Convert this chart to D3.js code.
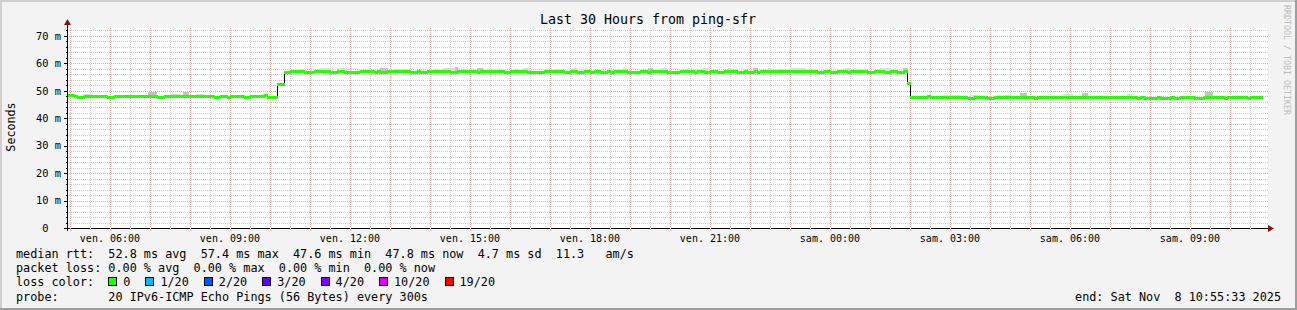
<!DOCTYPE html>
<html>
<head>
<meta charset="utf-8">
<script src="https://cdn.jsdelivr.net/npm/d3@7"></script>
<style>
body { margin: 0; background: #f3f3f3; }
svg { display: block; font-family: "DejaVu Sans Mono", monospace; }
text { white-space: pre; }
</style>
</head>
<body>
<svg id="graph" width="1297" height="310"></svg>
<script>
// median rtt (ms), step series: minute offset from graph start -> value
var medianStart = [0, 10, 15, 25, 60, 70, 135, 145, 220, 230, 240, 245, 265, 275, 295, 300, 315, 325, 335,
    355, 370, 395, 405, 415, 440, 460, 465, 470, 480, 515, 525, 530, 540, 575, 585, 615, 620, 655, 665, 690, 715,
    745, 755, 765, 775, 785, 790, 800, 810, 815, 820, 840, 860, 870, 875, 900, 920, 940, 945, 955, 965, 975, 985,
    1005, 1015, 1020, 1030, 1035, 1040, 1125, 1135, 1145, 1155, 1170, 1175, 1200, 1210, 1225, 1235, 1245, 1255,
    1260, 1265, 1290, 1295, 1350, 1360, 1380, 1390, 1450, 1455, 1605, 1610, 1615, 1635, 1640, 1655, 1660, 1670,
    1690, 1705, 1735, 1740, 1770, 1775];
var medianValue = [48.3, 48.0, 47.6, 48.0, 47.6, 48.0, 47.6, 48.0, 47.6, 48.0, 47.6, 48.0, 47.6, 48.0, 48.3, 47.6, 52.5, 57.0, 57.4,
    56.9, 57.4, 56.9, 57.4, 56.9, 57.4, 56.9, 57.4, 56.9, 57.4, 56.9, 57.4, 56.9, 57.4, 56.9, 57.4, 56.9, 57.4, 56.9, 57.4, 56.9, 57.4,
    56.9, 57.4, 56.9, 57.4, 56.9, 57.4, 56.9, 57.4, 56.9, 57.4, 56.9, 57.4, 56.9, 57.4, 56.9, 57.4, 56.9, 57.4, 56.9, 57.4, 56.9, 57.4,
    56.9, 57.4, 56.9, 57.4, 56.9, 57.4, 56.9, 57.4, 56.9, 57.4, 56.9, 57.4, 56.9, 57.4, 56.9, 57.4, 56.9, 57.4,
    53.0, 47.9, 48.2, 47.9, 47.5, 47.9, 47.5, 47.9, 47.5, 47.9, 47.5, 47.9, 47.5, 47.9, 47.5, 47.9, 47.5, 47.9,
    47.5, 47.9, 47.5, 47.9, 47.5, 47.8];
var dataEnd = 1793;

// smoke (spread of the 20 pings) where it shows above the median
var smokeFrom = [24, 121, 154, 174, 193, 380, 406, 470, 564, 582, 615, 684, 758, 810, 834, 872, 890, 930, 954, 992,
    1029, 1052, 1085, 1167, 1220, 1254, 1314, 1355, 1395, 1430, 1494, 1523, 1590, 1707];
var smokeTo = [39, 135, 171, 183, 207, 399, 420, 482, 590, 587, 624, 695, 765, 818, 842, 879, 900, 938, 962, 999,
    1037, 1059, 1107, 1175, 1235, 1262, 1340, 1370, 1419, 1440, 1509, 1532, 1598, 1719];
var smokeTop = [48.8, 49.4, 48.8, 49.4, 48.7, 58.2, 58.2, 58.2, 58.2, 58.6, 58.2, 58.2, 58.2, 58.2, 58.2, 58.2, 58.2, 58.2, 58.2, 58.2,
    58.2, 58.2, 58.2, 58.2, 58.2, 58.2, 48.6, 48.6, 48.6, 49.3, 48.8, 49.3, 48.8, 49.5];

var yMajor = [0, 10, 20, 30, 40, 50, 60, 70];
var weekDays = ["dim.", "lun.", "mar.", "mer.", "jeu.", "ven.", "sam."];

var lossLabels = ["0", "1/20", "2/20", "3/20", "4/20", "10/20", "19/20"];
var lossColors = ["#26ff00", "#00b8ff", "#0059ff", "#5e00ff", "#7e00ff", "#dd00ff", "#ff0000"];

var legendLines = [
    "median rtt:  52.8 ms avg  57.4 ms max  47.6 ms min  47.8 ms now  4.7 ms sd  11.3   am/s",
    "packet loss: 0.00 % avg  0.00 % max  0.00 % min  0.00 % now",
    "loss color:",
    "probe:       20 IPv6-ICMP Echo Pings (56 Bytes) every 300s"
];

var endTime = new Date(2025, 10, 8, 10, 55, 33);
var startTime = d3.timeHour.offset(endTime, -30);

var svg = d3.select("#graph");
var svg_width = 1297, svg_height = 310;
var plotLeft = 67, plotRight = 1267, plotTop = 28, plotBottom = 228;

// frame
svg.append("rect").attr("width", svg_width).attr("height", svg_height).attr("fill", "#f3f3f3");
svg.append("rect").attr("x", 0).attr("y", 0).attr("width", svg_width).attr("height", 2).attr("fill", "#cfcfcf");
svg.append("rect").attr("x", 0).attr("y", 0).attr("width", 2).attr("height", svg_height).attr("fill", "#cfcfcf");
svg.append("rect").attr("x", 0).attr("y", svg_height - 2).attr("width", svg_width).attr("height", 2).attr("fill", "#9e9e9e");
svg.append("rect").attr("x", svg_width - 2).attr("y", 0).attr("width", 2).attr("height", svg_height).attr("fill", "#9e9e9e");

// canvas
svg.append("rect").attr("x", plotLeft).attr("y", plotTop).attr("width", plotRight - plotLeft + 1).attr("height", plotBottom - plotTop)
    .attr("fill", "#ffffff");

var x = d3.scaleTime().domain([startTime, endTime]).range([plotLeft, plotRight]);
var y = d3.scaleLinear().domain([0, 72.9]).range([plotBottom, plotTop]);

function tAt(m) { return d3.timeMinute.offset(startTime, m); }
function px(v) { return Math.round(v) + 0.5; }

var grid = svg.append("g").attr("shape-rendering", "crispEdges");

// minor grid
grid.selectAll(".hminor").data(d3.range(2, 73, 2)).enter().append("line")
    .attr("x1", plotLeft).attr("x2", plotRight + 1)
    .attr("y1", d => px(y(d))).attr("y2", d => px(y(d)))
    .attr("stroke", "#cccccc").attr("stroke-dasharray", "1,1");
grid.selectAll(".vminor").data(x.ticks(d3.timeMinute.every(30))).enter().append("line")
    .attr("x1", d => px(x(d))).attr("x2", d => px(x(d)))
    .attr("y1", plotTop).attr("y2", plotBottom)
    .attr("stroke", "#cccccc").attr("stroke-dasharray", "1,1");

// major grid
grid.selectAll(".hmajor").data(yMajor.slice(1)).enter().append("line")
    .attr("x1", plotLeft).attr("x2", plotRight + 1)
    .attr("y1", d => px(y(d))).attr("y2", d => px(y(d)))
    .attr("stroke", "#f5a0a0").attr("stroke-dasharray", "1,1");
grid.selectAll(".vmajor").data(x.ticks(d3.timeHour.every(1))).enter().append("line")
    .attr("x1", d => px(x(d))).attr("x2", d => px(x(d)))
    .attr("y1", plotTop).attr("y2", plotBottom)
    .attr("stroke", "#f5a0a0").attr("stroke-dasharray", "1,1");

// smoke
var smoke = svg.append("g").attr("shape-rendering", "crispEdges");
smokeFrom.forEach(function (m, i) {
    var k = d3.bisectRight(medianStart, m) - 1;
    var y0 = y(medianValue[k]);
    var y1 = y(smokeTop[i]);
    smoke.append("rect")
        .attr("x", x(tAt(m))).attr("width", x(tAt(smokeTo[i])) - x(tAt(m)))
        .attr("y", y1).attr("height", y0 - y1)
        .attr("fill", smokeTop[i] - medianValue[k] > 1.3 ? "#c2c2c2" : "#dddddd");
});

// median: thin black step line, loss colored segments on top
var pts = medianStart.map((m, i) => [tAt(m), medianValue[i]]);
pts.push([tAt(dataEnd), medianValue[medianValue.length - 1]]);

var stepLine = d3.line()
    .x(d => Math.round(x(d[0])) + 0.5)
    .y(d => Math.round(y(d[1])) + 0.5)
    .curve(d3.curveStepAfter);

svg.append("path").datum(pts)
    .attr("d", stepLine)
    .attr("fill", "none")
    .attr("stroke", "#000000")
    .attr("stroke-width", 1)
    .attr("shape-rendering", "crispEdges");

svg.append("g").selectAll("line").data(medianStart).enter().append("line")
    .attr("x1", (m) => Math.round(x(tAt(m))))
    .attr("x2", (m, i) => Math.round(x(tAt(i + 1 < medianStart.length ? medianStart[i + 1] : dataEnd))) + 1)
    .attr("y1", (m, i) => Math.round(y(medianValue[i])) + 0.5)
    .attr("y2", (m, i) => Math.round(y(medianValue[i])) + 0.5)
    .attr("stroke", lossColors[0])
    .attr("stroke-width", 3)
    .attr("shape-rendering", "crispEdges");

// axes
var axes = svg.append("g").attr("shape-rendering", "crispEdges");
axes.append("line").attr("x1", plotLeft - 3).attr("x2", plotRight + 3).attr("y1", plotBottom + 0.5).attr("y2", plotBottom + 0.5)
    .attr("stroke", "#000000");
axes.append("line").attr("x1", plotLeft + 0.5).attr("x2", plotLeft + 0.5).attr("y1", plotBottom + 3).attr("y2", plotTop - 4)
    .attr("stroke", "#000000");
svg.append("path").attr("d", "M" + (plotRight + 1) + "," + (plotBottom - 3) + "L" + (plotRight + 7) + "," + (plotBottom + 0.5) + "L" + (plotRight + 1) + "," + (plotBottom + 4) + "Z")
    .attr("fill", "#8b1010");
svg.append("path").attr("d", "M" + (plotLeft - 3) + "," + (plotTop - 3) + "L" + (plotLeft + 0.5) + "," + (plotTop - 9) + "L" + (plotLeft + 4) + "," + (plotTop - 3) + "Z")
    .attr("fill", "#8b1010");

// y ticks
axes.selectAll(".ytick").data(yMajor).enter().append("line")
    .attr("x1", plotLeft - 3).attr("x2", plotLeft)
    .attr("y1", d => px(y(d))).attr("y2", d => px(y(d)))
    .attr("stroke", "#000000");
axes.selectAll(".ytickm").data(d3.range(2, 73, 2)).enter().append("line")
    .attr("x1", plotLeft - 1).attr("x2", plotLeft)
    .attr("y1", d => px(y(d))).attr("y2", d => px(y(d)))
    .attr("stroke", "#000000");
// x ticks
axes.selectAll(".xtick").data(x.ticks(d3.timeHour.every(1))).enter().append("line")
    .attr("x1", d => px(x(d))).attr("x2", d => px(x(d)))
    .attr("y1", plotBottom).attr("y2", plotBottom + 3)
    .attr("stroke", "#f5a0a0");
axes.selectAll(".xtickm").data(x.ticks(d3.timeMinute.every(30))).enter().append("line")
    .attr("x1", d => px(x(d))).attr("x2", d => px(x(d)))
    .attr("y1", plotBottom).attr("y2", plotBottom + 2)
    .attr("stroke", "#cccccc");

svg.append("g").selectAll("text").data(yMajor).enter().append("text")
    .attr("x", d => d == 0 ? 48.5 : 61)
    .attr("y", d => y(d) + 3.7)
    .attr("text-anchor", "end")
    .attr("font-size", "10.4px")
    .attr("fill", "#000000")
    .text(d => d == 0 ? "0" : d + " m");

svg.append("g").selectAll("text").data(x.ticks(d3.timeHour.every(3))).enter().append("text")
    .attr("x", d => x(d))
    .attr("y", 241.5)
    .attr("text-anchor", "middle")
    .attr("font-size", "10px")
    .attr("fill", "#000000")
    .text(d => weekDays[d.getDay()] + " " + d3.timeFormat("%H:%M")(d));

// titles
svg.append("text").attr("x", 648).attr("y", 23.5).attr("text-anchor", "middle")
    .attr("font-size", "13.3px").attr("fill", "#000000")
    .text("Last 30 Hours from ping-sfr");
svg.append("text").attr("transform", "translate(15,127) rotate(-90)").attr("text-anchor", "middle")
    .attr("font-size", "11.7px").attr("fill", "#000000")
    .text("Seconds");
svg.append("text").attr("transform", "translate(1284,60) rotate(90)").attr("text-anchor", "middle")
    .attr("font-size", "8.3px").attr("fill", "#bdbdbd")
    .text("RRDTOOL / TOBI OETIKER");

// legend
var cw = 7.1;
var lg = svg.append("g").attr("font-size", "11.8px").attr("fill", "#000000");
legendLines.forEach(function (s, i) {
    lg.append("text").attr("x", 16).attr("y", 258 + i * 14.2).attr("xml:space", "preserve").text(s);
});
var bx = 16 + 13 * cw;
lossLabels.forEach(function (s, i) {
    lg.append("rect").attr("x", Math.round(bx) + 0.5).attr("y", 277.5).attr("width", 8).attr("height", 8)
        .attr("fill", lossColors[i]).attr("stroke", "#000000").attr("shape-rendering", "crispEdges");
    lg.append("text").attr("x", bx + 15).attr("y", 286.4).text(s);
    bx = bx + 15 + s.length * cw + 15;
});
lg.append("text").attr("x", 1281).attr("y", 300.6).attr("text-anchor", "end").attr("xml:space", "preserve")
    .text("end: Sat Nov  8 10:55:33 2025");
</script>
</body>
</html>
